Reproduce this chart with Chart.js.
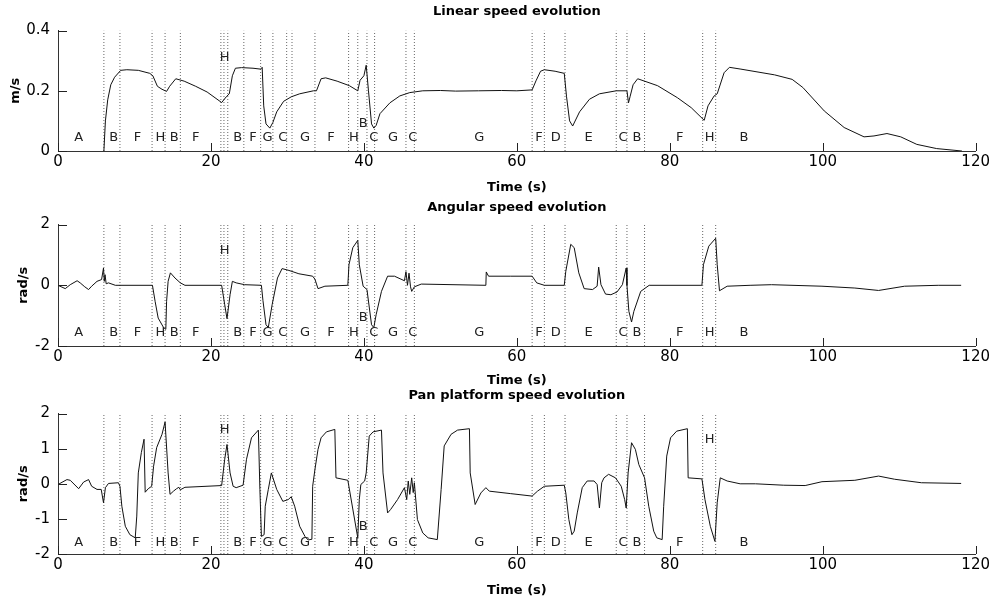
<!DOCTYPE html>
<html>
<head>
<meta charset="utf-8">
<script src="https://cdn.jsdelivr.net/npm/chart.js@4.4.1/dist/chart.umd.min.js"></script>
<style>
  html, body { margin: 0; padding: 0; background: #fff; }
  #wrap { position: relative; width: 992px; height: 602px; overflow: hidden; background: #fff; }
  canvas { position: absolute; left: 0; }
</style>
</head>
<body>
<div id="wrap">
  <canvas id="linChart" width="992" height="196" style="top:0px"></canvas>
  <canvas id="angChart" width="992" height="194" style="top:196px"></canvas>
  <canvas id="panChart" width="992" height="218" style="top:384px"></canvas>
</div>
<script>
// phase boundaries (s), dotted lines
const phaseTimes = [6.0, 8.1, 12.3, 14.0, 16.0, 21.3, 21.7, 22.2, 24.3, 26.5, 28.1, 29.9, 30.6, 33.6,
  38.0, 39.2, 40.4, 41.4, 45.5, 46.6, 62.0, 63.6, 66.3, 73.0, 74.4, 76.7, 84.3, 86.0];

// phase letters along the bottom of each plot
const rowLetters = ["A", "B", "F", "H", "B", "F", "B", "F", "G", "C", "G", "F", "H", "C", "G", "C",
  "G", "F", "D", "E", "C", "B", "F", "H", "B"];
const rowTimes = [2.7, 7.3, 10.4, 13.4, 15.2, 18.0, 23.5, 25.5, 27.4, 29.4, 32.3, 35.7, 38.7, 41.3, 43.8, 46.4,
  55.1, 62.9, 65.1, 69.4, 73.9, 75.7, 81.3, 85.2, 89.7];
const panRowLetters = ["A", "B", "F", "H", "B", "F", "B", "F", "G", "C", "G", "F", "H", "C", "G", "C",
  "G", "F", "D", "E", "C", "B", "F", "B"];
const panRowTimes = [2.7, 7.3, 10.4, 13.4, 15.2, 18.0, 23.5, 25.5, 27.4, 29.4, 32.3, 35.7, 38.7, 41.3, 43.8, 46.4,
  55.1, 62.9, 65.1, 69.4, 73.9, 75.7, 81.3, 89.7];

// letters placed higher up
const linUpLetters = ["H", "B"], linUpTimes = [21.8, 39.9], linUpValues = [0.31, 0.09];
const angUpLetters = ["H", "B"], angUpTimes = [21.8, 39.9], angUpValues = [1.13, -1.07];
const panUpLetters = ["H", "B", "H"], panUpTimes = [21.8, 39.9, 85.2], panUpValues = [1.54, -1.21, 1.25];

// Linear speed (m/s)
const linT = [6.0, 6.2, 6.5, 6.9, 7.4, 8.2, 9.0, 10.5, 12.0, 12.4, 13.0, 13.6, 14.2, 14.6, 15.4, 16.5, 18.0,
  19.5, 21.4, 22.0, 22.4, 22.8, 23.2, 24.0, 25.5, 26.5, 26.7, 26.9, 27.2, 27.7, 28.1, 28.6, 29.5, 30.5,
  31.6, 33.4, 33.8, 34.4, 35.0, 36.5, 38.1, 39.2, 39.5, 40.0, 40.3, 40.6, 41.0, 41.3, 41.6, 42.1, 43.4,
  44.7, 46.0, 47.7, 50, 52, 55, 58, 60, 62.0, 62.5, 63.1, 63.6, 65.0, 66.2, 66.5, 66.9, 67.3, 68.2, 69.5,
  70.8, 73.0, 74.4, 74.6, 74.8, 75.2, 75.8, 78.4, 81.0, 82.8, 84.5, 85.0, 85.8, 86.2, 87.1, 87.8, 89.3,
  93.7, 96.0, 97.4, 100.2, 102.8, 105.4, 106.7, 108.4, 110.2, 112.3, 114.9, 118.2];
const linV = [0, 0.10, 0.17, 0.22, 0.245, 0.268, 0.27, 0.268, 0.258, 0.25, 0.215, 0.205, 0.198, 0.215, 0.24,
  0.232, 0.215, 0.196, 0.161, 0.18, 0.19, 0.25, 0.275, 0.277, 0.275, 0.272, 0.278, 0.15, 0.09, 0.076,
  0.095, 0.13, 0.165, 0.18, 0.19, 0.2, 0.2, 0.24, 0.243, 0.232, 0.217, 0.2, 0.235, 0.25, 0.285, 0.2,
  0.09, 0.076, 0.085, 0.124, 0.16, 0.183, 0.194, 0.2, 0.201, 0.199, 0.2, 0.201, 0.2, 0.203, 0.233,
  0.265, 0.27, 0.265, 0.258, 0.18, 0.1, 0.083, 0.13, 0.172, 0.19, 0.2, 0.2, 0.16, 0.18, 0.22, 0.24,
  0.217, 0.177, 0.144, 0.102, 0.15, 0.183, 0.19, 0.26, 0.278, 0.272, 0.253, 0.238, 0.211, 0.133, 0.078,
  0.047, 0.05, 0.058, 0.047, 0.022, 0.008, 0.0];

// Angular speed (rad/s)
const angT = [0.0, 0.95, 1.6, 2.5, 2.9, 3.5, 4.0, 4.4, 5.1, 5.7, 5.95, 6.05, 6.15, 6.3, 6.6, 7.5, 12.35,
  12.7, 13.1, 13.8, 14.1, 14.2, 14.4, 14.7, 15.3, 16.0, 16.6, 21.4, 21.8, 22.1, 22.5, 22.8, 23.3, 24.4,
  26.6, 26.8, 27.2, 27.5, 28.0, 28.7, 29.3, 30.2, 31.5, 33.3, 33.6, 34.0, 34.9, 37.9, 38.05, 38.55,
  39.2, 39.4, 39.9, 40.4, 41.0, 41.3, 41.6, 42.3, 43.1, 44.0, 45.3, 45.5, 45.7, 45.9, 46.1, 46.25, 46.6,
  47.5, 55.95, 56.0, 56.3, 59.2, 62.0, 62.6, 63.6, 66.2, 66.4, 67.05, 67.5, 68.1, 68.8, 69.9, 70.5,
  70.7, 71.0, 71.6, 72.3, 73.1, 73.8, 74.3, 74.4, 74.65, 75.0, 75.3, 76.2, 77.3, 84.2, 84.4, 85.1, 86.0,
  86.2, 86.5, 87.5, 90.5, 93.3, 99.9, 104.2, 107.3, 110.7, 115.1, 118.1];
const angV = [0, -0.11, 0.02, 0.15, 0.08, -0.05, -0.14, -0.03, 0.13, 0.19, 0.57, 0.13, 0.35, 0.05, 0.08, 0,
  0, -0.53, -1.08, -1.39, -1.45, -0.53, 0.13, 0.41, 0.24, 0.08, 0, 0, -0.64, -1.1, -0.31, 0.13, 0.08,
  0.02, 0, -0.5, -1.3, -1.39, -0.64, 0.24, 0.55, 0.49, 0.38, 0.3, 0.2, -0.11, -0.03, 0, 0.68, 1.24,
  1.48, 0.68, -0.03, -0.14, -1.3, -1.39, -0.97, -0.2, 0.3, 0.3, 0.15, 0.45, 0.0, 0.4, -0.05, -0.2,
  -0.05, 0.04, 0, 0.44, 0.3, 0.3, 0.3, 0.08, 0, 0, 0.46, 1.35, 1.24, 0.41, -0.11, -0.14, -0.03, 0.6,
  0.02, -0.29, -0.31, -0.22, 0.02, 0.57, 0, -0.86, -1.21, -0.86, -0.2, 0, 0, 0.68, 1.29, 1.55, 0.68,
  -0.18, -0.03, 0, 0.02, -0.03, -0.09, -0.17, -0.03, 0, 0];

// Pan platform speed (rad/s)
const panT = [0.0, 1.17, 1.6, 2.7, 3.35, 4.0, 4.4, 5.1, 5.65, 5.95, 6.2, 6.6, 7.9, 8.1, 8.35, 8.8, 9.4,
  10.1, 10.3, 10.5, 10.9, 11.25, 11.4, 11.8, 12.25, 12.5, 12.9, 13.6, 14.0, 14.4, 14.65, 15.1, 15.5,
  15.8, 16.0, 16.6, 21.4, 21.8, 22.1, 22.5, 22.9, 23.3, 24.2, 24.65, 25.3, 26.2, 26.4, 26.6, 26.95,
  27.1, 27.5, 27.9, 28.6, 29.4, 30.1, 30.5, 30.95, 31.6, 32.3, 32.7, 33.2, 33.3, 33.6, 34.0, 34.4, 35.1,
  36.2, 36.35, 37.9, 39.2, 39.4, 39.6, 40.1, 40.3, 40.7, 41.2, 42.3, 42.5, 43.1, 43.5, 44.4, 45.3, 45.6,
  45.8, 46.0, 46.25, 46.45, 46.6, 47.0, 47.7, 48.4, 49.6, 50.1, 50.5, 51.4, 52.25, 53.8, 53.9, 54.55,
  55.3, 55.95, 56.4, 59.2, 62.0, 62.7, 63.6, 66.2, 66.4, 66.8, 67.2, 67.5, 67.9, 68.55, 69.2, 70.1,
  70.5, 70.8, 71.1, 71.4, 72.0, 72.9, 73.65, 74.1, 74.3, 74.55, 75.0, 75.5, 75.95, 76.7, 77.25, 77.9,
  78.3, 79.0, 79.2, 79.6, 80.1, 80.9, 82.3, 82.4, 84.2, 84.6, 85.3, 85.9, 86.2, 86.6, 87.5, 89.2, 91.2,
  94.9, 97.7, 99.9, 104.2, 107.3, 109.4, 112.9, 118.1];
const panV = [-0.02, 0.12, 0.1, -0.14, 0.05, 0.12, -0.07, -0.16, -0.16, -0.54, -0.11, 0.01, 0.03, -0.07,
  -0.64, -1.21, -1.45, -1.54, -0.92, 0.31, 0.89, 1.27, -0.24, -0.14, -0.07, 0.5, 1.03, 1.41, 1.76, 0.31,
  -0.3, -0.21, -0.14, -0.1, -0.17, -0.1, -0.05, 0.7, 1.12, 0.31, -0.07, -0.11, -0.04, 0.7, 1.31, 1.53,
  -0.16, -1.5, -1.45, -0.64, -0.16, 0.31, -0.16, -0.5, -0.45, -0.37, -0.64, -1.21, -1.5, -1.6, -1.58,
  -0.07, 0.41, 0.98, 1.31, 1.48, 1.55, 0.17, 0.1, -1.54, -0.45, -0.02, 0.08, 0.31, 1.36, 1.48, 1.53,
  0.31, -0.83, -0.73, -0.45, -0.11, -0.45, 0.08, -0.3, 0.17, -0.25, 0.03, -1.02, -1.4, -1.54, -1.59,
  -0.16, 1.08, 1.41, 1.53, 1.57, 0.31, -0.59, -0.26, -0.11, -0.21, -0.28, -0.35, -0.21, -0.07, -0.04,
  -0.26, -1.02, -1.45, -1.35, -0.83, -0.11, 0.08, 0.08, -0.02, -0.69, 0.03, 0.17, 0.27, 0.17, -0.07,
  -0.45, -0.69, 0.31, 1.17, 0.98, 0.55, 0.17, -0.64, -1.35, -1.54, -1.59, -0.64, 0.79, 1.31, 1.5, 1.57,
  0.17, 0.14, -0.45, -1.21, -1.64, -0.54, 0.17, 0.08, 0, 0, -0.04, -0.05, 0.06, 0.1, 0.22, 0.13, 0.03, 0.01];

Chart.defaults.font.family = "'DejaVu Sans', sans-serif";
Chart.defaults.color = "#000";

function makeDecor(letters, times, values) {
  return {
    id: "decor",
    afterDatasetsDraw(chart) {
      const { ctx, chartArea, scales: { x, y } } = chart;
      ctx.save();
      // MATLAB style inward ticks
      ctx.strokeStyle = "#222";
      ctx.lineWidth = 1;
      ctx.beginPath();
      x.ticks.forEach((t) => {
        const px = Math.round(x.getPixelForValue(t.value)) + 0.5;
        ctx.moveTo(px, chartArea.bottom);
        ctx.lineTo(px, chartArea.bottom - 8);
      });
      y.ticks.forEach((t) => {
        const py = Math.round(y.getPixelForValue(t.value)) + 0.5;
        ctx.moveTo(chartArea.left, py);
        ctx.lineTo(chartArea.left + 9, py);
      });
      ctx.stroke();
      // phase letters
      ctx.fillStyle = "#222";
      ctx.font = "13px 'DejaVu Sans'";
      ctx.textAlign = "center";
      ctx.textBaseline = "middle";
      letters.forEach((l, i) => {
        ctx.fillText(l, x.getPixelForValue(times[i]), y.getPixelForValue(values[i]));
      });
      ctx.restore();
    },
  };
}

function makeChart(id, cfg) {
  const lo = cfg.yMin, hi = cfg.yMax;
  const vData = [];
  phaseTimes.forEach((t) => {
    vData.push({ x: t, y: lo }, { x: t, y: hi }, { x: t, y: null });
  });
  const allLetters = cfg.rowLetters.concat(cfg.upLetters);
  const allTimes = cfg.rowTimes.concat(cfg.upTimes);
  const allValues = cfg.rowTimes.map(() => cfg.rowY).concat(cfg.upValues);

  return new Chart(document.getElementById(id), {
    type: "line",
    data: {
      datasets: [
        {
          data: cfg.T.map((t, i) => ({ x: t, y: cfg.V[i] })),
          borderColor: "#111",
          borderWidth: 1,
          pointRadius: 0,
          tension: 0,
          fill: false,
        },
        {
          data: vData,
          borderColor: "#666",
          borderWidth: 1,
          borderDash: [1, 2],
          pointRadius: 0,
          spanGaps: false,
          fill: false,
        },
      ],
    },
    options: {
      responsive: false,
      animation: false,
      events: [],
      layout: { padding: { left: 0, right: 14, top: 0, bottom: 0 } },
      plugins: {
        legend: { display: false },
        tooltip: { enabled: false },
        title: {
          display: true,
          text: cfg.title,
          fullSize: false,
          color: "#000",
          font: { size: 13, weight: "bold" },
          padding: { top: 4, bottom: cfg.titleGap },
        },
      },
      scales: {
        x: {
          type: "linear",
          min: 0,
          max: 120,
          ticks: { stepSize: 20, padding: 2, maxRotation: 0, autoSkip: false, color: "#000", font: { size: 15 } },
          grid: { display: false, drawTicks: false },
          border: { display: true, color: "#333", width: 1 },
          title: {
            display: true,
            text: "Time (s)",
            color: "#000",
            font: { size: 13, weight: "bold" },
            padding: { top: 0, bottom: cfg.xTitleGap },
          },
          afterFit: (s) => { s.height = cfg.xHeight; },
        },
        y: {
          min: lo,
          max: hi,
          ticks: { stepSize: cfg.yStep, padding: 8, color: "#000", font: { size: 15 } },
          grid: { display: false, drawTicks: false },
          border: { display: true, color: "#333", width: 1 },
          title: {
            display: true,
            text: cfg.yLabel,
            color: "#000",
            font: { size: 13, weight: "bold" },
            padding: { top: cfg.yTitleGap, bottom: 0 },
          },
          afterFit: (s) => { s.width = 58; },
        },
      },
    },
    plugins: [makeDecor(allLetters, allTimes, allValues)],
  });
}

makeChart("linChart", {
  title: "Linear speed evolution", yLabel: "m/s",
  T: linT, V: linV, yMin: 0, yMax: 0.4, yStep: 0.2,
  rowLetters, rowTimes, rowY: 0.044,
  upLetters: linUpLetters, upTimes: linUpTimes, upValues: linUpValues,
  titleGap: 11, xHeight: 45, xTitleGap: 1, yTitleGap: 8,
});

makeChart("angChart", {
  title: "Angular speed evolution", yLabel: "rad/s",
  T: angT, V: angV, yMin: -2, yMax: 2, yStep: 2,
  rowLetters, rowTimes, rowY: -1.57,
  upLetters: angUpLetters, upTimes: angUpTimes, upValues: angUpValues,
  titleGap: 9, xHeight: 44, xTitleGap: 2, yTitleGap: 16,
});

makeChart("panChart", {
  title: "Pan platform speed evolution", yLabel: "rad/s",
  T: panT, V: panV, yMin: -2, yMax: 2, yStep: 1,
  rowLetters: panRowLetters, rowTimes: panRowTimes, rowY: -1.69,
  upLetters: panUpLetters, upTimes: panUpTimes, upValues: panUpValues,
  titleGap: 10, xHeight: 48, xTitleGap: 4, yTitleGap: 16,
});
</script>
</body>
</html>
